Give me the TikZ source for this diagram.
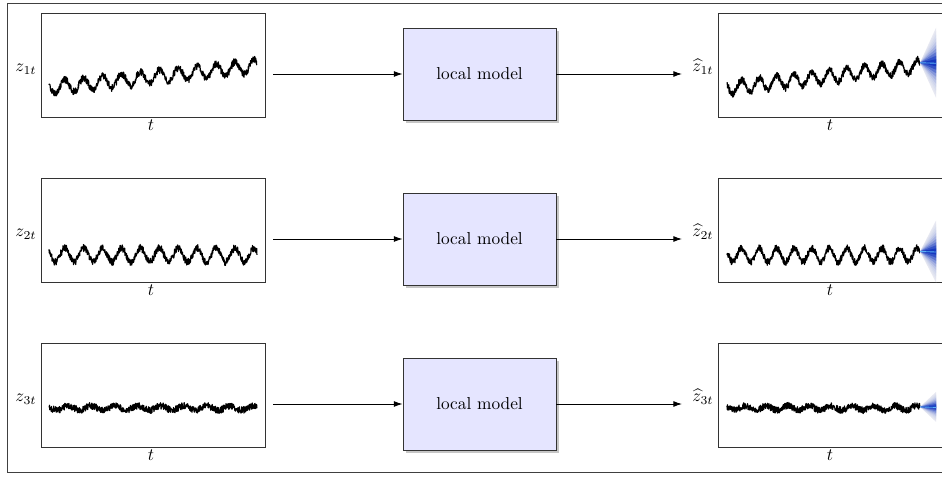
\documentclass[tikz,border=0pt]{standalone}
\usepackage{amsmath}
\usetikzlibrary{shadows,arrows.meta}
\definecolor{fanblue}{RGB}{20,55,190}
\definecolor{fangray}{RGB}{236,237,243}
\definecolor{meanblue}{RGB}{90,175,245}
\begin{document}
\pgfmathsetseed{11}
\begin{tikzpicture}[x=0.578pt,y=-0.578pt,
  plotbox/.style={draw=black!80, line width=0.5pt, minimum width=224*0.578pt, minimum height=104*0.578pt, inner sep=0pt},
  model/.style={draw=black!80, fill=blue!10, line width=0.5pt, minimum width=153*0.578pt, minimum height=92*0.578pt, inner sep=0pt,
     drop shadow={shadow xshift=1.6pt, shadow yshift=-1.6pt, opacity=0.45}},
  series/.style={line width=0.7pt, line join=round},
  flow/.style={-{Latex[length=5pt,width=3.4pt]}, line width=0.5pt},
  meanline/.style={draw=meanblue, line width=0.5pt},
  lbl/.style={inner sep=0pt},
]
\useasboundingbox (0,0) rectangle (942,476);
\clip (0,0) rectangle (942,476);
\draw[black!75, line width=0.5pt] (7,3) rectangle (980,472);
\foreach \r/\base/\tr/\amp/\per/\nz/\fan in {1/88/-22/6.5/11/3.6/35, 2/255/0/7/11/3.6/31, 3/408/0/2.2/9/3.4/15}{
  \pgfmathsetmacro\yc{65+(\r-1)*165}
  \pgfmathsetmacro\ya{\yc+9}
  \pgfmathsetmacro\yl{\yc+4}
  \pgfmathsetmacro\ylh{\yc+2}
  \pgfmathsetmacro\yt{\yc+60}
  \pgfmathsetmacro\yend{\base+\tr-\amp*sin(150)}
  \node[plotbox] (L\r) at (153,\yc) {};
  \node[plotbox] (R\r) at (830,\yc) {};
  \node[model] (M\r) at (479.5,\ya) {local model};
  \coordinate (a\r) at (273,\ya);
  \coordinate (b\r) at (682,\ya);
  \node[lbl] (zl\r) at (26,\yl) {$z_{\r t}$};
  \node[lbl] (zr\r) at (703,\ylh) {$\widehat{z}_{\r t}$};
  \node[lbl] (tl\r) at (151,\yt) {$t$};
  \node[lbl] (tr\r) at (830,\yt) {$t$};
  \draw[flow] (a\r) -- (M\r.west);
  \draw[flow] (M\r.east) -- (b\r);
  \draw[series] plot[domain=0:1,samples=750] ({49+208*\x},{\base+\tr*\x-\amp*sin(\per*360*\x+150)+\nz*rand});
  \draw[series] plot[domain=0:1,samples=700] ({727+193*\x},{\base+\tr*\x-\amp*sin(\per*360*\x+150)+\nz*rand});
  \coordinate (f\r) at (920,\yend);
  \foreach \k/\mix in {10/2,9/5,8/9,7/14,6/22,5/33,4/48,3/66,2/85,1/100}{
    \fill[fanblue!\mix!fangray] (f\r) -- +(16,-\fan*\k/10) -- +(16,\fan*\k/10) -- cycle;
  }
  \draw[meanline] (f\r) -- +(16,0.5);
}
\end{tikzpicture}
\end{document}
